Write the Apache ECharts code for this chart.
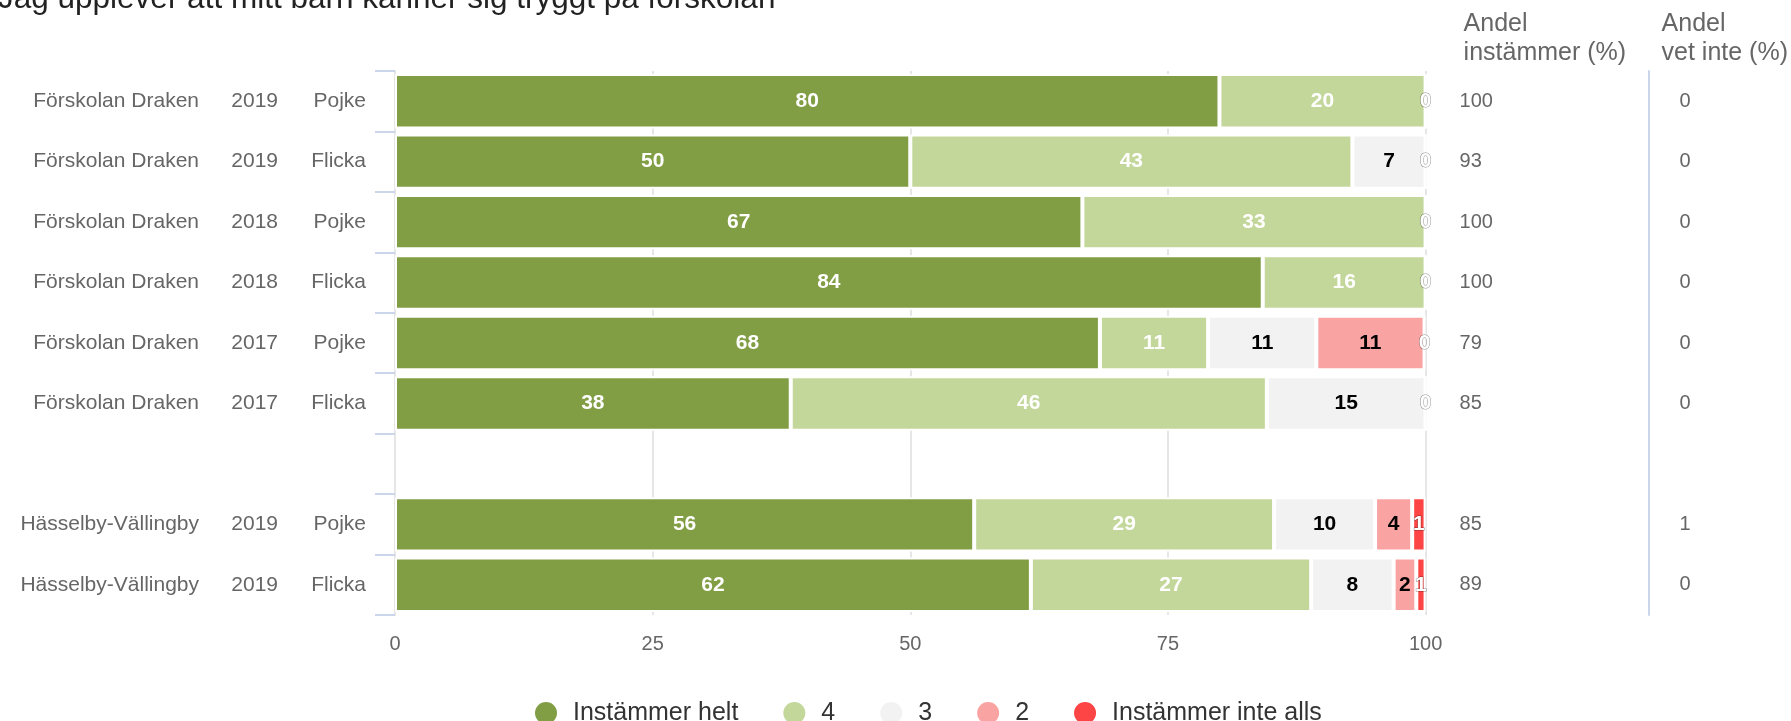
<!DOCTYPE html>
<html>
<head>
<meta charset="utf-8">
<script src="https://cdn.jsdelivr.net/npm/echarts@6/dist/echarts.min.js"></script>
<style>
html,body{margin:0;padding:0;background:#fff;}
#chart{width:1791px;height:721px;}
</style>
</head>
<body>
<div id="chart"></div>
<script>
// ---- data ----
const titleText = 'Jag upplever att mitt barn känner sig tryggt på förskolan';
const schools = ['Förskolan Draken','Förskolan Draken','Förskolan Draken','Förskolan Draken','Förskolan Draken','Förskolan Draken','','Hässelby-Vällingby','Hässelby-Vällingby'];
const years = ['2019','2019','2018','2018','2017','2017','','2019','2019'];
const genders = ['Pojke','Flicka','Pojke','Flicka','Pojke','Flicka','','Pojke','Flicka'];
const seriesNames = ['Instämmer helt','4','3','2','Instämmer inte alls'];
const helt = [80, 50, 66.7, 84.2, 68.4, 38.4, null, 56.2, 61.7];
const four = [20, 42.9, 33.3, 15.8, 10.5, 46.2, null, 29.1, 27.2];
const three = [0, 7.1, 0, 0, 10.5, 15.4, null, 9.8, 8.0];
const two = [0, 0, 0, 0, 10.5, 0, null, 3.6, 2.2];
const inteAlls = [0, 0, 0, 0, 0, 0, null, 1.3, 0.9];
const andelInstammer = ['100','93','100','100','79','85','','85','89'];
const andelVetInte = ['0','0','0','0','0','0','','1','0'];
const xTicks = [0, 25, 50, 75, 100];

// ---- styles ----
const colors = ['#829e44','#c4d79b','#f2f2f2','#faa3a3','#fe4545'];
const labelColors = ['#ffffff','#ffffff','#000000','#000000','#ffffff'];
const FONT = 'Arial, "Liberation Sans", sans-serif';

const categories = schools.map((s, i) => i);
const seriesData = [helt, four, three, two, inteAlls];

const series = seriesData.map((arr, si) => ({
  name: seriesNames[si],
  type: 'bar',
  stack: 'total',
  data: arr,
  barCategoryGap: '10%',
  itemStyle: { color: colors[si], borderColor: '#ffffff', borderWidth: 2 },
  emphasis: { disabled: true },
  label: {
    show: true,
    position: 'inside',
    color: labelColors[si],
    fontFamily: FONT,
    fontSize: 21,
    fontWeight: 'bold',
    textBorderColor: si === 4 ? 'rgba(0,0,0,0.45)' : 'transparent',
    textBorderWidth: si === 4 ? 1 : 0,
    formatter: p => {
      if (p.value === null || p.value === undefined) return '';
      if (p.value === 0 && si !== 4) return '';
      return String(Math.round(p.value));
    }
  }
}));

const chart = echarts.init(document.getElementById('chart'));
chart.setOption({
  animation: false,
  textStyle: { fontFamily: FONT },
  title: {
    text: titleText,
    left: -2,
    top: -17,
    padding: 0,
    textStyle: { fontFamily: FONT, fontSize: 31.5, fontWeight: 'normal', color: '#222222' }
  },
  legend: {
    data: seriesNames,
    left: 528,
    top: 695,
    icon: 'circle',
    itemWidth: 44,
    itemHeight: 24,
    itemGap: 43,
    textStyle: { fontFamily: FONT, fontSize: 25, color: '#333333' }
  },
  grid: { left: 395, right: 363, top: 71, bottom: 106 },
  xAxis: {
    type: 'value',
    min: xTicks[0],
    max: xTicks[xTicks.length - 1],
    interval: 25,
    axisLine: { show: false },
    axisTick: { show: false },
    axisLabel: { fontFamily: FONT, fontSize: 20, color: '#666666', margin: 19 },
    splitLine: { show: true, lineStyle: { color: '#e6e6e6', width: 2 } }
  },
  yAxis: [
    {
      type: 'category',
      inverse: true,
      data: categories,
      axisLine: { show: true, lineStyle: { color: '#e6e6e6', width: 2 } },
      axisTick: { show: true, length: 20, lineStyle: { color: '#ccd6eb', width: 2 } },
      axisLabel: {
        margin: 29,
        formatter: v => {
          const i = Number(v);
          if (!schools[i]) return '';
          return '{a|' + schools[i] + '}{b|' + years[i] + '}{c|' + genders[i] + '}';
        },
        rich: {
          a: { width: 190, align: 'right', fontFamily: FONT, fontSize: 21, color: '#666666' },
          b: { width: 79, align: 'right', fontFamily: FONT, fontSize: 21, color: '#666666' },
          c: { width: 88, align: 'right', fontFamily: FONT, fontSize: 21, color: '#666666' }
        }
      }
    },
    {
      type: 'category',
      inverse: true,
      position: 'right',
      offset: 0,
      data: andelInstammer,
      name: 'Andel\ninstämmer (%)',
      nameLocation: 'start',
      nameGap: 3,
      nameMoveOverlap: false,
      nameTextStyle: { fontFamily: FONT, fontSize: 25, color: '#666666', align: 'left', verticalAlign: 'bottom', lineHeight: 29, padding: [0, 0, 0, 38] },
      axisLine: { show: false },
      axisTick: { show: false },
      splitLine: { show: false },
      axisLabel: { margin: 34, fontFamily: FONT, fontSize: 20, color: '#666666' }
    },
    {
      type: 'category',
      inverse: true,
      position: 'right',
      offset: 223,
      data: andelVetInte,
      name: 'Andel\nvet inte (%)',
      nameLocation: 'start',
      nameGap: 3,
      nameMoveOverlap: false,
      nameTextStyle: { fontFamily: FONT, fontSize: 25, color: '#666666', align: 'left', verticalAlign: 'bottom', lineHeight: 29, padding: [0, 0, 0, 13] },
      axisLine: { show: true, lineStyle: { color: '#ccd6eb', width: 2 } },
      axisTick: { show: false },
      splitLine: { show: false },
      axisLabel: { margin: 31, fontFamily: FONT, fontSize: 20, color: '#666666' }
    }
  ],
  series: series
});
</script>
</body>
</html>
